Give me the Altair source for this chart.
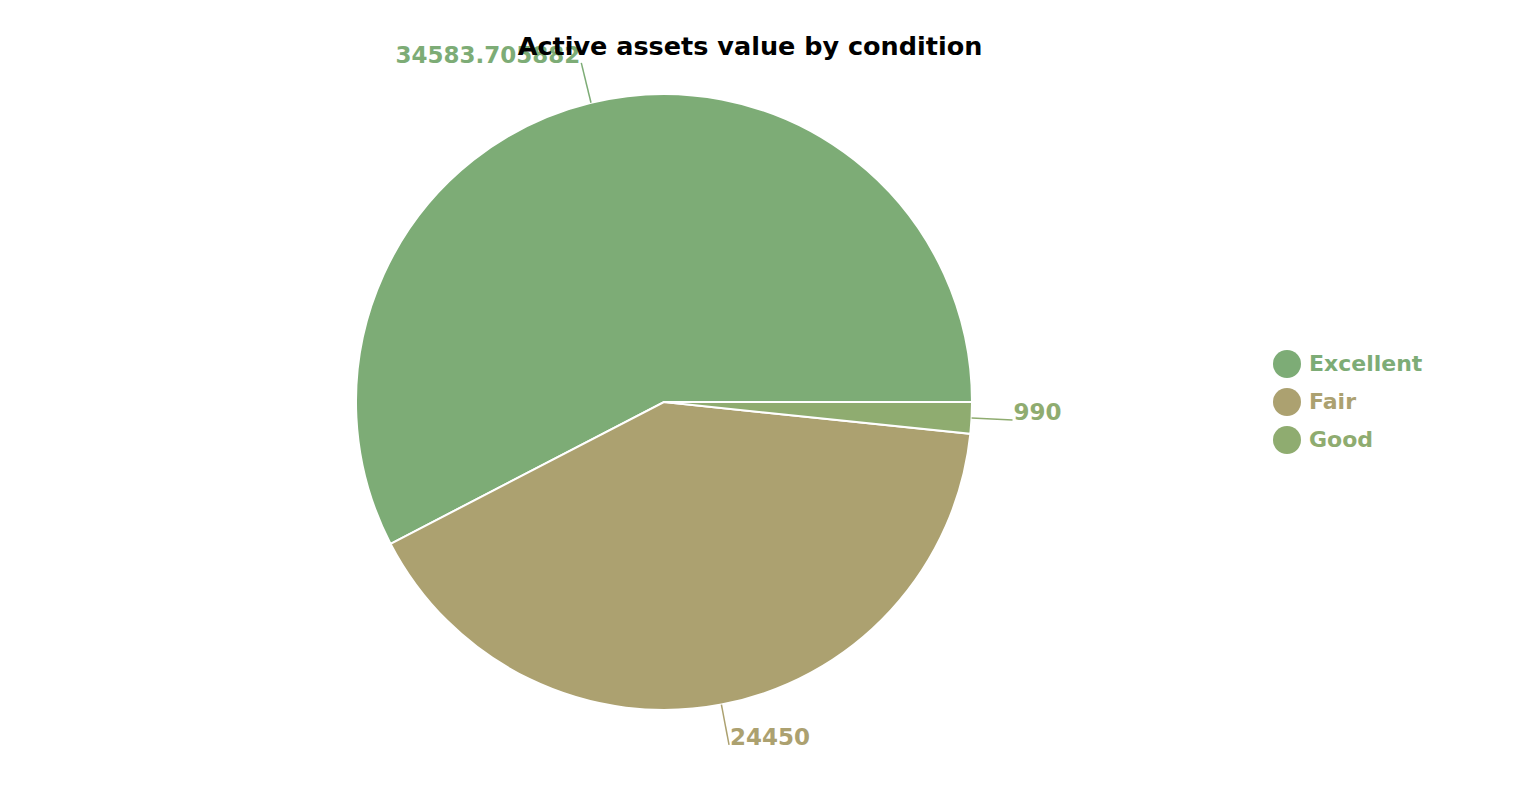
import math
import altair as alt
import pandas as pd

# ---- data ----
conditions = ["Excellent", "Fair", "Good"]
values = [34583.705882, 24450, 990]
colors = ["#7dac76", "#aca170", "#8fac70"]

df = pd.DataFrame({"condition": conditions, "value": values})

# ---- layout ----
WIDTH = 1328
HEIGHT = 804
CX = WIDTH / 2
CY = HEIGHT / 2
R = 308
R_LABEL = 349
FONT = "DejaVu Sans"

color = alt.Color(
    "condition:N",
    scale=alt.Scale(domain=conditions, range=colors),
    legend=alt.Legend(
        title=None,
        orient="none",
        legendX=1273,
        legendY=350,
        symbolType="circle",
        symbolSize=784,
        symbolStrokeWidth=0,
        symbolOpacity=1,
        labelFont=FONT,
        labelFontSize=22,
        labelFontWeight="bold",
        labelColor=alt.ExprRef("scale('color', datum.value)"),
        labelOffset=8,
        rowPadding=10,
        padding=0,
    ),
)

pie = alt.Chart(df).mark_arc(outerRadius=R, stroke="white", strokeWidth=2).encode(
    theta=alt.Theta(
        "value:Q",
        stack=True,
        scale=alt.Scale(range=[math.pi / 2, math.pi / 2 + 2 * math.pi]),
    ),
    color=color,
    order=alt.Order("condition:N", sort="descending"),
)

base = (
    alt.Chart(df)
    .transform_joinaggregate(total="sum(value)")
    .transform_window(
        cum="sum(value)",
        sort=[alt.SortField("condition", order="descending")],
        frame=[None, 0],
    )
    .transform_calculate(
        mid="PI/2 + 2*PI*(datum.cum - datum.value/2)/datum.total",
        label="'' + datum.value",
    )
    .transform_calculate(
        x0=f"{CX} + {R}*sin(datum.mid)",
        y0=f"{CY} - {R}*cos(datum.mid)",
        x1=f"{CX} + {R_LABEL}*sin(datum.mid)",
        y1=f"{CY} - {R_LABEL}*cos(datum.mid)",
        side="sin(datum.mid) >= 0 ? 'right' : 'left'",
    )
)

lcolor = alt.Color("condition:N", scale=alt.Scale(domain=conditions, range=colors), legend=None)

leaders = base.mark_rule(strokeWidth=1.5).encode(
    x=alt.X("x0:Q", scale=None),
    y=alt.Y("y0:Q", scale=None),
    x2="x1:Q",
    y2="y1:Q",
    color=lcolor,
)

labels_right = base.transform_filter("datum.side == 'right'").mark_text(
    align="left", baseline="alphabetic", dx=1, font=FONT, fontSize=23, fontWeight="bold"
).encode(
    x=alt.X("x1:Q", scale=None),
    y=alt.Y("y1:Q", scale=None),
    text="label:N",
    color=lcolor,
)

labels_left = base.transform_filter("datum.side == 'left'").mark_text(
    align="right", baseline="alphabetic", dx=-1, font=FONT, fontSize=23, fontWeight="bold"
).encode(
    x=alt.X("x1:Q", scale=None),
    y=alt.Y("y1:Q", scale=None),
    text="label:N",
    color=lcolor,
)

chart = (
    alt.layer(pie, leaders, labels_right, labels_left)
    .properties(
        width=WIDTH,
        height=HEIGHT,
        autosize=alt.AutoSizeParams(type="none"),
        padding={"left": 0, "top": 0, "right": 202, "bottom": 0},
        title=alt.TitleParams(
            "Active assets value by condition",
            font=FONT,
            fontSize=25.5,
            fontWeight="bold",
            color="black",
            anchor="middle",
            dx=86,
            dy=34,
            offset=-26,
        ),
    )
    .configure_view(stroke=None)
)

chart.save("out.html", embed_options={"renderer": "svg", "actions": False})
